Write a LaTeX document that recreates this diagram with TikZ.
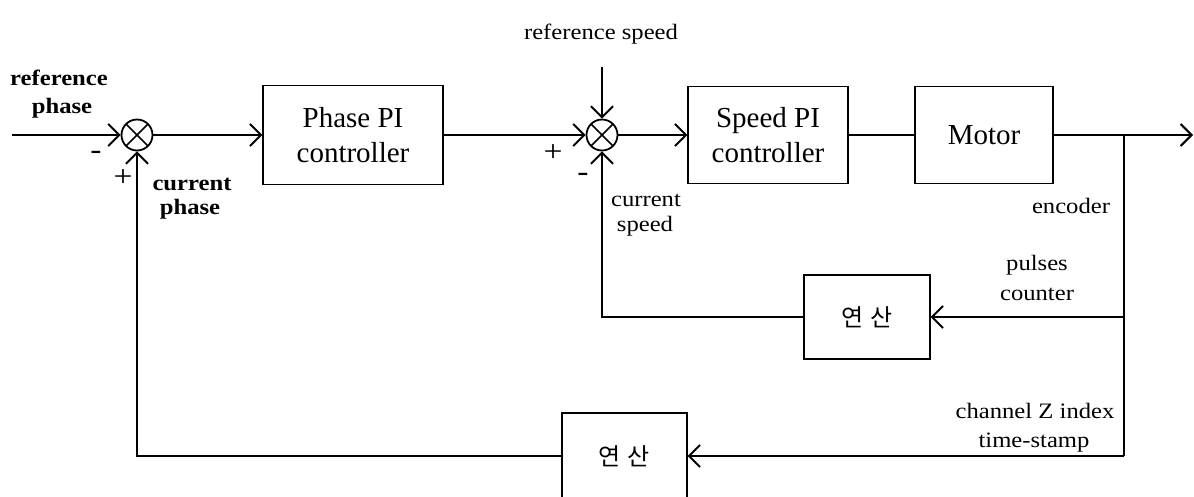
\documentclass[tikz,border=0pt]{standalone}
\usepackage{fontspec}
\setmainfont{Liberation Serif}
\newfontfamily\lblfont[FakeStretch=1.12]{Liberation Serif}
\newfontfamily\krfont{Noto Sans CJK KR}
\usetikzlibrary{arrows.meta}
\tikzset{
  blk/.style={draw, line width=1.2pt, inner sep=0pt, align=center, font=\fontsize{29}{35}\selectfont},
  krblk/.style={draw, line width=1.2pt, inner sep=0pt, font=\krfont\fontsize{24}{28}\selectfont},
  sumj/.style={circle, draw, line width=1.8pt, minimum size=31pt, inner sep=0pt,
    path picture={\draw[line width=1.6pt] (path picture bounding box.north west) -- (path picture bounding box.south east)
      (path picture bounding box.south west) -- (path picture bounding box.north east);}},
  wire/.style={line width=2pt},
  arr/.style={wire, -{Straight Barb[length=11pt,width=22pt]}},
  lbl/.style={font=\lblfont\fontsize{22}{26}\selectfont, anchor=base, inner sep=0pt},
  blbl/.style={font=\lblfont\bfseries\fontsize{22}{26}\selectfont, anchor=base, inner sep=0pt},
  sgn/.style={font=\lblfont\fontsize{30}{32}\selectfont, inner sep=0pt}
}
\begin{document}
\begin{tikzpicture}[x=1pt,y=-1pt]
\useasboundingbox (0,0) rectangle (1194,496);
% summing junctions
\node[sumj] (sum1) at (137,135) {};
\node[sumj] (sum2) at (602,135) {};
% blocks
\node[blk, minimum width=180pt, minimum height=99pt] (ppi) at (353,135) {Phase PI\\controller};
\node[blk, minimum width=160pt, minimum height=97pt] (spi) at (768,135) {Speed PI\\controller};
\node[blk, minimum width=138pt, minimum height=97pt] (motor) at (984,135) {Motor};
\node[krblk, minimum width=126pt, minimum height=84pt] (scalc) at (867,317) {연\hspace{6pt}산};
\node[krblk, minimum width=125pt, minimum height=86pt] (pcalc) at (624.5,456) {};
\node[font=\krfont\fontsize{24}{28}\selectfont, inner sep=0pt] (pcalctxt) at (624,456) {연\hspace{6pt}산};
% coordinates
\coordinate (in) at (12,135);
\coordinate (rs) at (602,67);
\coordinate (br) at (1124,135);
\coordinate (out) at (1193,135);
\coordinate (bs) at (1124,317);
\coordinate (bz) at (1124,456);
% forward path
\draw[arr] (in) -- (sum1.west);
\draw[arr] (sum1.east) -- (ppi.west);
\draw[arr] (ppi.east) -- (sum2.west);
\draw[arr] (rs) -- (sum2.north);
\draw[arr] (sum2.east) -- (spi.west);
\draw[wire] (spi.east) -- (motor.west);
\draw[wire] (motor.east) -- (br);
\draw[arr] (br) -- (out);
% feedback
\draw[wire] (br) -- (bz);
\draw[arr] (bs) -- (scalc.east);
\draw[arr] (scalc.west) -| (sum2.south);
\draw[arr] (bz) -- (pcalc.east);
\draw[arr] (pcalc.west) -| (sum1.south);
% labels
\node[blbl] (l1) at (59,85) {reference};
\node[blbl] (l2) at (62,113) {phase};
\node[sgn] (m1) at (96,155) {-};
\node[sgn] (p1) at (123,178) {+};
\node[blbl] (l3) at (192,190) {current};
\node[blbl] (l4) at (190,214) {phase};
\node[lbl] (l5) at (601,39) {reference speed};
\node[sgn] (p2) at (553,153) {+};
\node[sgn] (m2) at (583,177) {-};
\node[lbl] (l6) at (646,206) {current};
\node[lbl] (l7) at (645,231) {speed};
\node[lbl] (l8) at (1071,213) {encoder};
\node[lbl] (l9) at (1037,270) {pulses};
\node[lbl] (l10) at (1037,300) {counter};
\node[lbl] (l11) at (1035,418) {channel Z index};
\node[lbl] (l12) at (1034,447) {time-stamp};
\end{tikzpicture}
\end{document}
